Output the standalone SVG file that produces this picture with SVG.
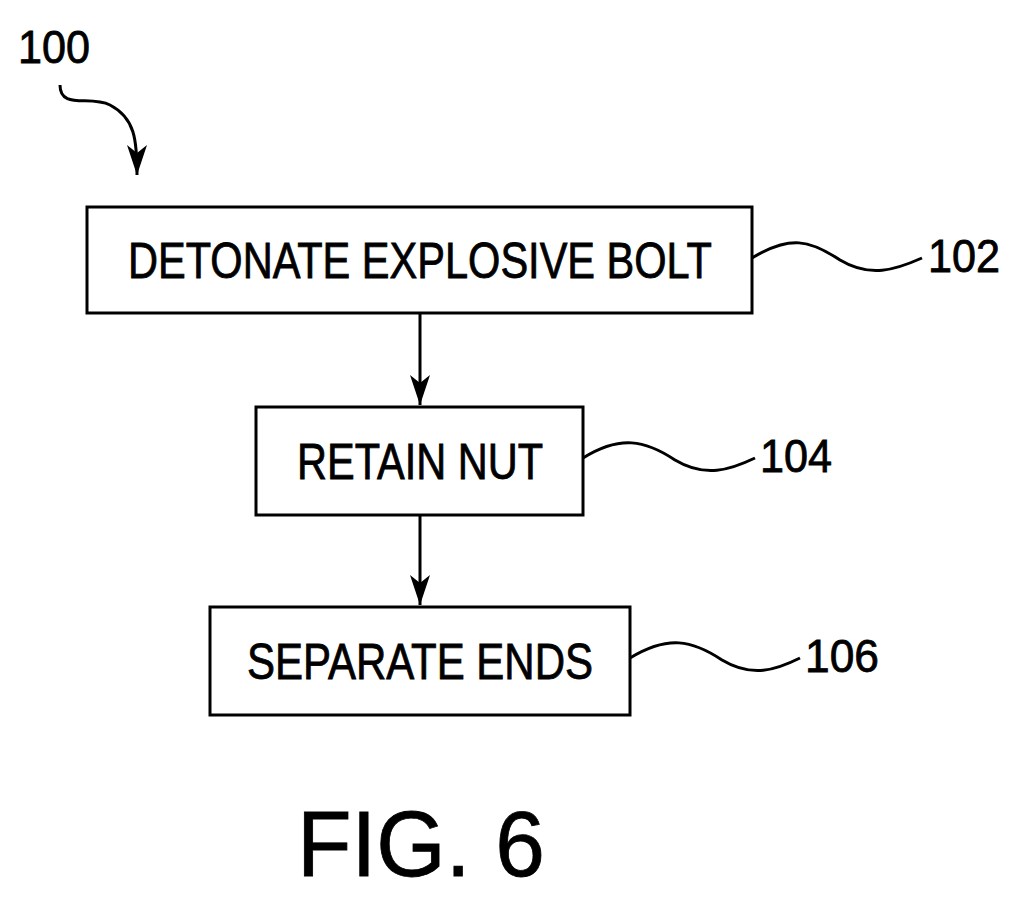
<svg xmlns="http://www.w3.org/2000/svg" width="1020" height="904" viewBox="0 0 1020 904">
<style>
.b{fill:#fff;stroke:#000;stroke-width:3}
.l{fill:none;stroke:#000;stroke-width:3}
text{font-family:"Liberation Sans",Arial,sans-serif;fill:#000;stroke:#000;stroke-width:0.8}
.t{font-size:50px;text-anchor:middle}
.n{font-size:46px}
</style>
<defs><marker id="h" viewBox="0 0 30 20" refX="30" refY="10" markerWidth="30" markerHeight="20" markerUnits="userSpaceOnUse" orient="auto"><path d="M0,0 L30,10 L0,20 L8,10 Z" fill="#000"/></marker></defs>
<text class="n" x="18" y="63" textLength="72" lengthAdjust="spacingAndGlyphs">100</text>
<g id="n1"><rect class="b" x="87" y="207" width="665" height="106"/><text class="t" x="420" y="278" textLength="584" lengthAdjust="spacingAndGlyphs">DETONATE EXPLOSIVE BOLT</text></g>
<g id="n2"><rect class="b" x="256" y="407" width="327" height="108"/><text class="t" x="420" y="479" textLength="246" lengthAdjust="spacingAndGlyphs">RETAIN NUT</text></g>
<g id="n3"><rect class="b" x="210" y="607" width="420" height="108"/><text class="t" x="420" y="679" textLength="346" lengthAdjust="spacingAndGlyphs">SEPARATE ENDS</text></g>
<g id="c">
<path class="l" d="M60,85 C60,110 90,95 110,105 C135,118 137,140 137,175" marker-end="url(#h)"/>
<line class="l" x1="420" y1="313" x2="420" y2="405" marker-end="url(#h)"/>
<line class="l" x1="420" y1="515" x2="420" y2="605" marker-end="url(#h)"/>
<path class="l" d="M752,258 C790,235 810,240 840,260 C870,278 895,270 922,258"/>
<path class="l" d="M583,458 C620,435 645,440 675,460 C705,478 730,470 755,458"/>
<path class="l" d="M630,658 C668,635 692,640 722,660 C752,678 776,670 800,658"/>
</g>
<text class="n" x="928" y="272" textLength="72" lengthAdjust="spacingAndGlyphs">102</text>
<text class="n" x="760" y="472" textLength="72" lengthAdjust="spacingAndGlyphs">104</text>
<text class="n" x="805" y="672" textLength="74" lengthAdjust="spacingAndGlyphs">106</text>
<text x="297" y="876" font-size="92" textLength="248" lengthAdjust="spacingAndGlyphs">FIG. 6</text>
</svg>
